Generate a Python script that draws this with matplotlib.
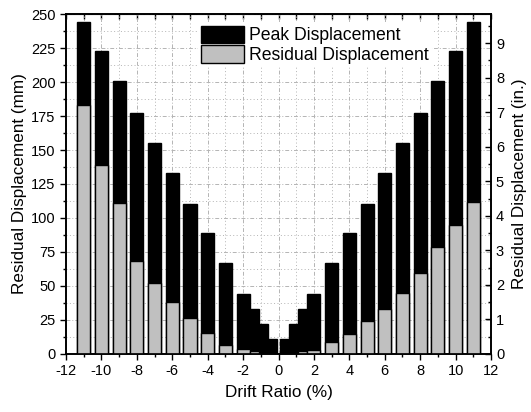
import numpy as np
import matplotlib
matplotlib.use('Agg')
from matplotlib import pyplot as plt
from matplotlib.patches import Patch
from matplotlib.ticker import MultipleLocator

plt.rcParams['font.family'] = ['Liberation Sans', 'DejaVu Sans']
plt.rcParams['axes.unicode_minus'] = False

# drift ratio (%) of each cycle
drift = [-11, -10, -9, -8, -7, -6, -5, -4, -3, -2, -1.5, -1, -0.5,
         0.5, 1, 1.5, 2, 3, 4, 5, 6, 7, 8, 9, 10, 11]
# peak displacement (mm)
peak = [244, 222.5, 200.5, 177, 155.5, 133, 110.5, 89, 67, 44, 33, 22.3, 11,
        11, 22.3, 33, 44, 67, 89, 110.5, 133, 155.5, 177, 200.5, 222.5, 244]
# residual displacement (mm)
resid = [183.3, 138.7, 111, 68.6, 52.2, 38.2, 26.7, 15.4, 6.8, 3.9, 1.9, 1.0, 0.9,
         0.3, 1.0, 1.9, 2.9, 8.8, 14.7, 24.5, 33.3, 44.9, 59.6, 78.4, 95, 112]

MM_PER_IN = 25.4
GRAY = '#c0c0c0'
GRID = '#b4b4b4'

fig = plt.figure(figsize=(5.31, 4.12), dpi=100)
ax = fig.add_axes([0.1243, 0.1408, 0.8004, 0.8252])

# bars below 2% are narrower and pulled toward zero (as drawn in the source)
d = np.array(drift, dtype=float)
small = np.abs(d) < 2
pos = np.where(small, d - 0.15 * np.sign(d), d)
wid = np.where(small, 0.5, 0.74)

ax.bar(pos, peak, width=wid, color='black', edgecolor='black', linewidth=1, zorder=3)
ax.bar(pos, resid, width=wid, color=GRAY, edgecolor='black', linewidth=1, zorder=4)

ax.set_xlim(-12, 12)
ax.set_ylim(0, 250)
ax.xaxis.set_major_locator(MultipleLocator(2))
ax.xaxis.set_minor_locator(MultipleLocator(1))
ax.yaxis.set_major_locator(MultipleLocator(25))
ax.yaxis.set_minor_locator(MultipleLocator(12.5))

ax.grid(which='major', color=GRID, linestyle=(0, (4, 2, 1, 2)), linewidth=0.7, zorder=0)
ax.grid(which='minor', color=GRID, linestyle=(0, (1, 2.5)), linewidth=0.7, zorder=0)
ax.set_axisbelow(True)

ax.tick_params(which='major', direction='out', length=4, width=1, labelsize=10.5)
ax.tick_params(which='minor', direction='out', length=2.5, width=1)

top = ax.secondary_xaxis('top')
top.xaxis.set_major_locator(MultipleLocator(2))
top.xaxis.set_minor_locator(MultipleLocator(1))
top.tick_params(which='both', direction='in', length=3.5, width=1, labeltop=False)

ax.set_xlabel('Drift Ratio (%)', fontsize=12.3, labelpad=5)
ax.set_ylabel('Residual Displacement (mm)', fontsize=12.3, labelpad=3)

ax2 = ax.twinx()
ax2.set_ylim(0, 250 / MM_PER_IN)
ax2.yaxis.set_major_locator(MultipleLocator(1))
ax2.yaxis.set_minor_locator(MultipleLocator(0.5))
ax2.tick_params(which='major', direction='in', length=4, width=1, labelsize=10.5)
ax2.tick_params(which='minor', direction='in', length=2.5, width=1)
ax2.set_ylabel('Residual Displacement (in.)', fontsize=12.3, labelpad=6)

for a in (ax, ax2):
    for s in a.spines.values():
        s.set_linewidth(1.2)

handles = [Patch(facecolor='black', edgecolor='black', linewidth=1),
           Patch(facecolor=GRAY, edgecolor='black', linewidth=1)]
leg = ax2.legend(handles, ['Peak Displacement', 'Residual Displacement'],
                 loc='upper left', bbox_to_anchor=(0.31, 0.976), fontsize=12.7,
                 frameon=True, framealpha=1, edgecolor='none', fancybox=False,
                 handlelength=2.4, handleheight=1.14, handletextpad=0.28,
                 labelspacing=0.05, borderpad=0.2, borderaxespad=0)
leg.set_zorder(10)

fig.savefig('out.png', dpi=100)
